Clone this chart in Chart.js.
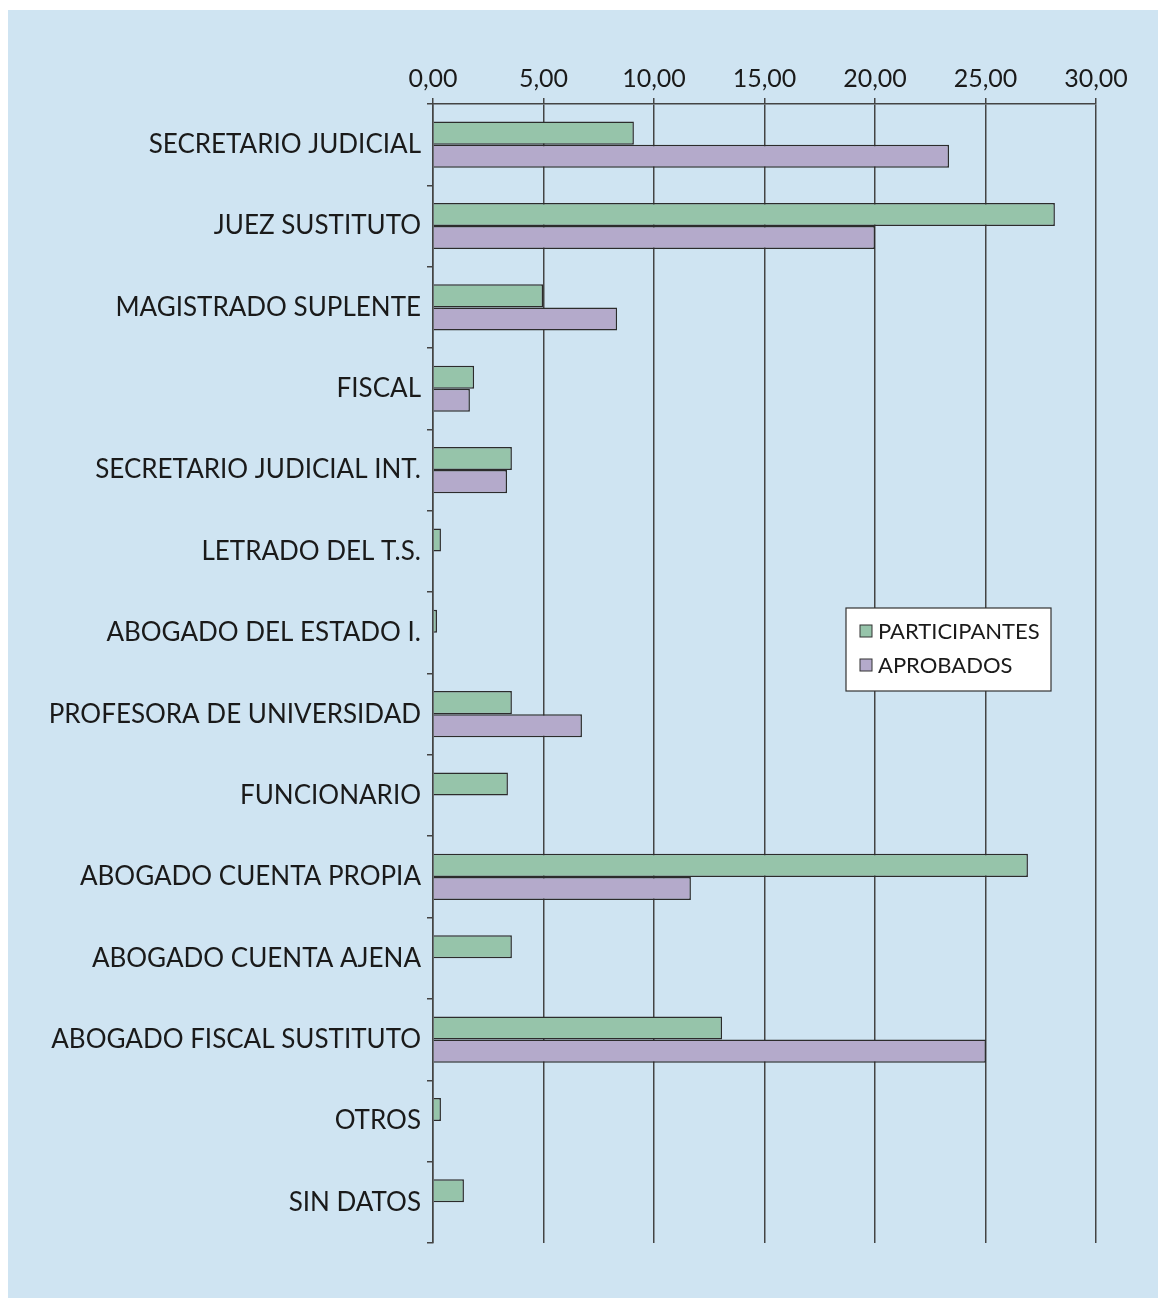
<!DOCTYPE html>
<html>
<head>
<meta charset="utf-8">
<script src="https://cdn.jsdelivr.net/npm/chart.js@4"></script>
<style>
  html, body { margin: 0; padding: 0; background: #ffffff; }
  #wrap { position: absolute; left: 8px; top: 10px; width: 1150px; height: 1288px; background: #cfe4f2; }
</style>
</head>
<body>
<div id="wrap"><canvas id="chart"></canvas></div>
<script>
// categories and series
const categories = [
  "SECRETARIO JUDICIAL",
  "JUEZ SUSTITUTO",
  "MAGISTRADO SUPLENTE",
  "FISCAL",
  "SECRETARIO JUDICIAL INT.",
  "LETRADO DEL T.S.",
  "ABOGADO DEL ESTADO I.",
  "PROFESORA DE UNIVERSIDAD",
  "FUNCIONARIO",
  "ABOGADO CUENTA PROPIA",
  "ABOGADO CUENTA AJENA",
  "ABOGADO FISCAL SUSTITUTO",
  "OTROS",
  "SIN DATOS",
];

const participantes = [9.09, 28.14, 4.98, 1.86, 3.57, 0.36, 0.18, 3.57, 3.39, 26.92, 3.57, 13.08, 0.36, 1.40];
const aprobados = [23.35, 20.0, 8.33, 1.67, 3.35, 0, 0, 6.74, 0, 11.67, 0, 25.02, 0, 0];

const seriesNames = ["PARTICIPANTES", "APROBADOS"];
const xTicks = [0, 5, 10, 15, 20, 25, 30];

const FONT = "Lato, 'Open Sans', sans-serif";
const INK = "#1a1a1a";

// legend box drawn inside the plot, like the original
const boxLegend = {
  id: "boxLegend",
  afterDraw(chart) {
    const ctx = chart.ctx;
    const area = chart.chartArea;
    const x = area.left + 413;
    const y = area.top + 504;
    const w = 205, h = 83;
    ctx.save();
    ctx.fillStyle = "#ffffff";
    ctx.fillRect(x, y, w, h);
    ctx.strokeStyle = "#333333";
    ctx.lineWidth = 1.2;
    ctx.strokeRect(x, y, w, h);
    ctx.font = "22px " + FONT;
    ctx.textBaseline = "middle";
    chart.data.datasets.forEach((ds, i) => {
      const cy = y + 23 + i * 34;
      ctx.fillStyle = ds.backgroundColor;
      ctx.fillRect(x + 14, cy - 6, 12, 12);
      ctx.strokeStyle = "#333333";
      ctx.lineWidth = 1;
      ctx.strokeRect(x + 14, cy - 6, 12, 12);
      ctx.fillStyle = INK;
      ctx.fillText(ds.label, x + 32, cy + 1);
    });
    ctx.restore();
  },
};

const ctx = document.getElementById("chart").getContext("2d");
const chart = new Chart(ctx, {
  type: "bar",
  data: {
    labels: categories,
    datasets: [
      {
        label: seriesNames[0],
        data: participantes,
        backgroundColor: "#96c4aa",
        borderColor: "#2c2c2c",
        borderWidth: 1.5,
        categoryPercentage: 0.567,
        barPercentage: 1.0,
      },
      {
        label: seriesNames[1],
        data: aprobados,
        backgroundColor: "#b4aacb",
        borderColor: "#2c2c2c",
        borderWidth: 1.5,
        categoryPercentage: 0.567,
        barPercentage: 1.0,
      },
    ],
  },
  options: {
    indexAxis: "y",
    responsive: true,
    maintainAspectRatio: false,
    animation: false,
    layout: {
      padding: { top: 50, right: 62, bottom: 55, left: 0 },
    },
    plugins: {
      legend: { display: false },
      tooltip: { enabled: false },
    },
    scales: {
      x: {
        position: "top",
        min: 0,
        max: 30,
        afterBuildTicks: (scale) => {
          scale.ticks = xTicks.map((v) => ({ value: v }));
        },
        ticks: {
          color: INK,
          font: { family: FONT, size: 25 },
          padding: 4,
          callback: (v) => v.toFixed(2).replace(".", ","),
        },
        grid: {
          color: "#444444",
          lineWidth: 1.5,
          tickLength: 6,
          drawTicks: true,
        },
        border: { color: "#444444", width: 1.5 },
      },
      y: {
        afterFit: (scale) => {
          scale.width = 425;
        },
        ticks: {
          color: INK,
          font: { family: FONT, size: 26 },
          padding: 6,
        },
        grid: {
          drawOnChartArea: false,
          drawTicks: true,
          tickLength: 6,
          color: "#444444",
          lineWidth: 1.5,
          offset: true,
        },
        border: { color: "#444444", width: 1.5 },
      },
    },
  },
  plugins: [boxLegend],
});
</script>
</body>
</html>
